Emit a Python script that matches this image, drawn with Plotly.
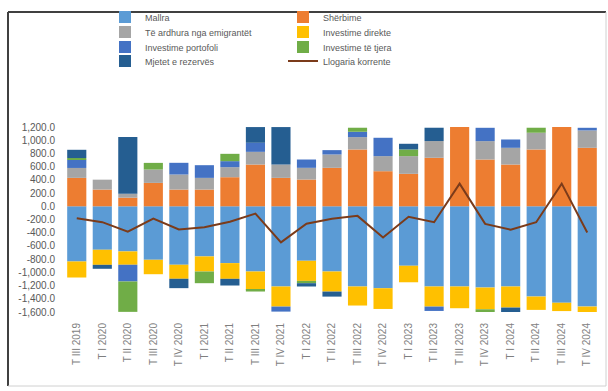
import plotly.graph_objects as go

# Quarters on the category axis
quarters = ["T III 2019", "T I 2020", "T II 2020", "T III 2020", "T IV 2020",
            "T I 2021", "T II 2021", "T III 2021", "T IV 2021", "T I 2022",
            "T II 2022", "T III 2022", "T IV 2022", "T I 2023", "T II 2023",
            "T III 2023", "T IV 2023", "T I 2024", "T II 2024", "T III 2024",
            "T IV 2024"]

# Balance-of-payments components (million)
mallra = [-835, -658, -683, -810, -885, -759, -860, -987, -1214, -825,
          -987, -1214, -1240, -900, -1214, -1214, -1230, -1214, -1366, -1460, -1518]
sherbime = [430, 253, 130, 354, 253, 253, 440, 632, 430, 405,
            582, 860, 531, 491, 734, 1290, 708, 632, 860, 1290, 885]
emigrantet = [150, 150, 60, 202, 228, 177, 152, 192, 202, 177,
              202, 187, 228, 268, 253, 250, 278, 253, 253, 250, 263]
inv_direkte = [-243, -228, -202, -218, -212, -228, -238, -278, -304, -304,
               -304, -288, -314, -250, -304, -329, -329, -319, -202, -126, -86]
inv_portofoli = [125, 0, -253, 0, 177, 192, 91, 137, -76, 126,
                 66, 81, 278, 0, -66, 0, 202, 126, 0, 0, 40]
inv_tjera = [25, 0, -460, 101, 0, -177, 111, -25, 0, -35,
             0, 61, 0, 101, 0, 0, -45, 0, 76, 0, 0]
rezervat = [125, -60, 860, 0, -142, 0, -101, 238, 567, -50,
            -76, 0, 0, 86, 202, 0, 0, -71, 0, 0, 0]
llogaria_korrente = [-180, -240, -385, -185, -350, -318, -234, -111, -545, -265,
                     -190, -145, -473, -158, -241, 343, -266, -355, -241, 343, -398]

y_ticks = [1200, 1000, 800, 600, 400, 200, 0, -200, -400, -600,
           -800, -1000, -1200, -1400, -1600]
y_ticktext = ["1,200.0", "1,000.0", "800.0", "600.0", "400.0", "200.0", "0.0",
              "-200.0", "-400.0", "-600.0", "-800.0", "-1,000.0", "-1,200.0",
              "-1,400.0", "-1,600.0"]

bar_series = [
    ("Mallra", mallra, "#5B9BD5", "legend"),
    ("Shërbime", sherbime, "#ED7D31", "legend"),
    ("Të ardhura nga emigrantët", emigrantet, "#A5A5A5", "legend2"),
    ("Investime direkte", inv_direkte, "#FFC000", "legend2"),
    ("Investime portofoli", inv_portofoli, "#4472C4", "legend3"),
    ("Investime të tjera", inv_tjera, "#70AD47", "legend3"),
    ("Mjetet e rezervës", rezervat, "#255E91", "legend4"),
]

fig = go.Figure()
for name, vals, color, leg in bar_series:
    fig.add_trace(go.Bar(x=quarters, y=vals, name=name, marker_color=color,
                         marker_line_width=0, legend=leg))

fig.add_trace(go.Scatter(x=quarters, y=llogaria_korrente, name="Llogaria korrente",
                         mode="lines", line=dict(color="#7B3B1A", width=2),
                         legend="legend4"))

PLOT_L, PLOT_R, PLOT_T, PLOT_B = 64, 8, 127, 79
W, H = 608, 391
pw, ph = W - PLOT_L - PLOT_R, H - PLOT_T - PLOT_B


def px_x(p):
    return (p - PLOT_L) / pw


def px_y(p):
    return (H - PLOT_B - p) / ph


legend_font = dict(family="Liberation Sans Narrow, Arial Narrow, Liberation Sans, sans-serif",
                   size=9, color="#595959")
legend_common = dict(orientation="h", xanchor="left", yanchor="middle",
                     entrywidth=133, entrywidthmode="pixels", font=legend_font,
                     bgcolor="rgba(0,0,0,0)", itemwidth=30, tracegroupgap=0)
rows = [17, 32, 47, 61]

layout_legends = {}
for i, key in enumerate(["legend", "legend2", "legend3", "legend4"]):
    layout_legends[key] = dict(legend_common, x=px_x(105), y=px_y(rows[i]))

# Chart frame
frame = [
    dict(x0=px_x(8), x1=px_x(606), y0=px_y(12), y1=px_y(12), color="#404040", w=2),
    dict(x0=px_x(8), x1=px_x(8), y0=px_y(12), y1=px_y(386), color="#404040", w=2),
    dict(x0=px_x(606), x1=px_x(606), y0=px_y(12), y1=px_y(386), color="#d0d0d0", w=1),
    dict(x0=px_x(8), x1=px_x(606), y0=px_y(386), y1=px_y(386), color="#d0d0d0", w=1),
]
shapes = [dict(type="line", xref="paper", yref="paper", x0=f["x0"], x1=f["x1"],
               y0=f["y0"], y1=f["y1"], line=dict(color=f["color"], width=f["w"]))
          for f in frame]

fig.update_layout(
    width=W, height=H,
    margin=dict(l=PLOT_L, r=PLOT_R, t=PLOT_T, b=PLOT_B, autoexpand=False),
    barmode="relative", bargap=0.25,
    paper_bgcolor="white", plot_bgcolor="white",
    showlegend=True,
    shapes=shapes,
    **layout_legends,
)
fig.update_xaxes(showgrid=False, zeroline=False, showline=False, tickangle=-90,
                 ticks="", ticklabelstandoff=8,
                 tickfont=dict(family="Liberation Sans, Arial, sans-serif", size=10, color="#7f7f7f"))
fig.update_yaxes(range=[-1600, 1200], showgrid=False, zeroline=False, showline=False,
                 tickvals=y_ticks, ticktext=y_ticktext, ticks="", ticklabelstandoff=8,
                 tickfont=dict(family="Liberation Sans Narrow, Liberation Sans, sans-serif",
                               size=10, color="#595959"))

fig.write_html("out.html")
